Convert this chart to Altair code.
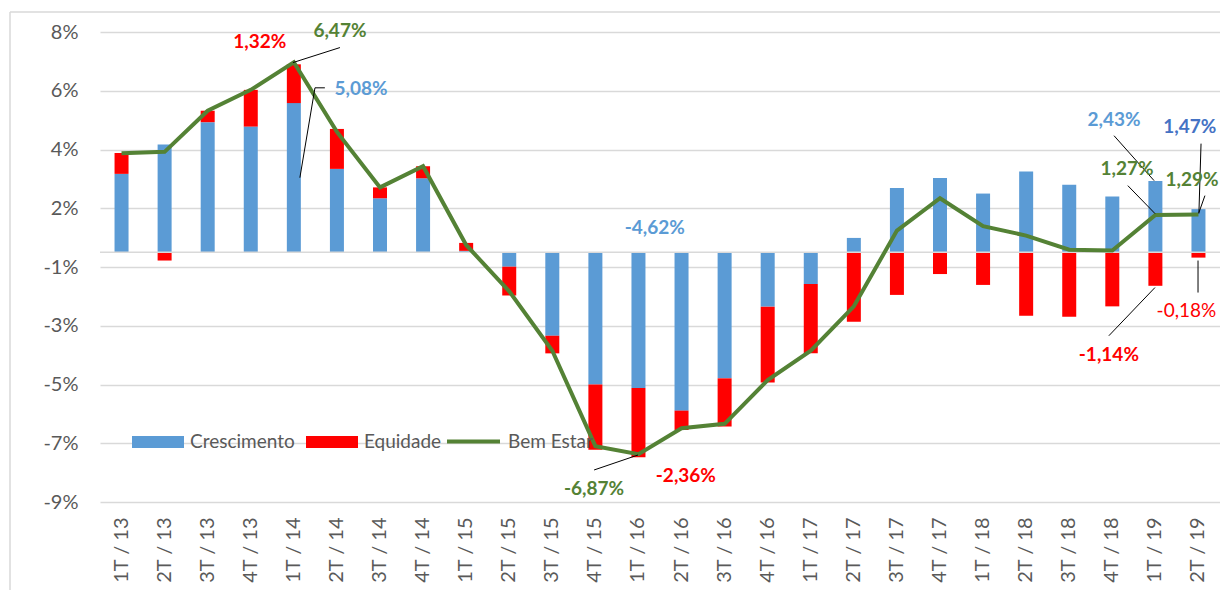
import altair as alt
import pandas as pd

quarters = ["1T / 13", "2T / 13", "3T / 13", "4T / 13", "1T / 14", "2T / 14", "3T / 14", "4T / 14",
            "1T / 15", "2T / 15", "3T / 15", "4T / 15", "1T / 16", "2T / 16", "3T / 16", "4T / 16",
            "1T / 17", "2T / 17", "3T / 17", "4T / 17", "1T / 18", "2T / 18", "3T / 18", "4T / 18",
            "1T / 19", "2T / 19"]
crescimento = [2.67, 3.67, 4.43, 4.28, 5.08, 2.84, 1.84, 2.52, 0.05, -0.49, -2.84, -4.50, -4.62,
               -5.39, -4.29, -1.85, -1.08, 0.49, 2.19, 2.53, 2.00, 2.75, 2.30, 1.90, 2.43, 1.47]
equidade = [0.71, -0.28, 0.39, 1.25, 1.32, 1.36, 0.37, 0.41, 0.27, -0.98, -0.60, -2.22, -2.36,
            -0.66, -1.64, -2.58, -2.36, -2.36, -1.45, -0.74, -1.11, -2.16, -2.19, -1.84, -1.14, -0.18]
bem_estar = [3.37, 3.42, 4.82, 5.53, 6.47, 4.10, 2.21, 2.93, 0.25, -1.33, -3.35, -6.60, -6.87,
             -5.99, -5.84, -4.35, -3.35, -1.84, 0.74, 1.84, 0.89, 0.57, 0.09, 0.06, 1.27, 1.29]
series_names = ["Crescimento", "Equidade"]
line_name = "Bem Estar"
y_ticks = [-8.5, -6.5, -4.5, -2.5, -0.5, 1.5, 3.5, 5.5, 7.5]

# data labels (text, anchor in category-index units and value units)
ann_text = ["1,32%", "6,47%", "5,08%", "-4,62%", "-6,87%", "-2,36%", "2,43%", "1,47%",
            "1,27%", "1,29%", "-1,14%", "-0,18%"]
ann_x = [3.21, 5.07, 5.56, 12.38, 10.97, 13.10, 23.04, 24.80, 23.34, 24.85, 22.92, 24.72]
ann_y = [7.17, 7.55, 5.57, 0.84, -8.05, -7.60, 4.52, 4.28, 2.82, 2.47, -3.48, -1.99]
ann_color = ["#FF0000", "#548235", "#5B9BD5", "#5B9BD5", "#548235", "#FF0000", "#5B9BD5",
             "#4472C4", "#548235", "#548235", "#FF0000", "#FF0000"]
ann_bold = [True, True, True, True, True, True, True, True, True, True, True, False]

# leader lines: group id, x (category-index units), y (value units)
lead_group = [0, 0, 1, 1, 1, 2, 2, 3, 3, 4, 4, 5, 5, 6, 6, 7, 7, 8, 8]
lead_x = [5.07, 3.98, 4.72, 4.49, 4.14, 10.97, 11.99, 23.04, 23.97, 25.06, 25.01,
          23.36, 23.99, 25.15, 25.01, 22.92, 23.99, 24.99, 24.99]
lead_y = [6.97, 6.46, 5.60, 5.60, 2.54, -7.41, -6.90, 3.97, 2.44, 3.70, 1.32,
          2.27, 1.32, 1.93, 1.35, -2.84, -1.20, -0.28, -1.37]

FONT = "Lato"
GRAY = "#595959"
GRID = "#D9D9D9"

bars_rows = []
for i, q in enumerate(quarters):
    bars_rows.append({"q": q, "serie": series_names[0], "v": crescimento[i], "ord": 0})
    bars_rows.append({"q": q, "serie": series_names[1], "v": equidade[i], "ord": 1})
bars_df = pd.DataFrame(bars_rows)
line_df = pd.DataFrame({"q": quarters, "v": bem_estar, "serie": [line_name] * len(quarters)})

ann_df = pd.DataFrame({"t": ann_text, "x": ann_x, "y": ann_y, "c": ann_color, "b": ann_bold})
lead_df = pd.DataFrame({"g": lead_group, "x": lead_x, "y": lead_y, "o": list(range(len(lead_x)))})

yscale = alt.Scale(domain=[-8.5, 7.5], nice=False, zero=False)
yaxis = alt.Axis(values=y_ticks, title=None, grid=True, gridColor=GRID, gridWidth=1.5,
                 domain=False, ticks=False, labelPadding=22, labelFont=FONT,
                 labelFontSize=20, labelColor=GRAY,
                 labelExpr="(datum.value < 0 ? '-' : '') + round(abs(datum.value)) + '%'")
xscale = alt.Scale(paddingInner=0.675, paddingOuter=0.3375)
xaxis = alt.Axis(title=None, labelAngle=-90, ticks=False, domain=False, labelPadding=15,
                 labelFont=FONT, labelFontSize=20, labelColor=GRAY, grid=False)

bars = alt.Chart(bars_df).mark_bar().encode(
    x=alt.X("q:N", sort=quarters, scale=xscale, axis=xaxis),
    y=alt.Y("v:Q", stack="zero", scale=yscale, axis=yaxis),
    color=alt.Color("serie:N", scale=alt.Scale(domain=series_names, range=["#5B9BD5", "#FF0000"]),
                    legend=alt.Legend(title=None, orient="none", direction="horizontal",
                                      legendX=32, legendY=384, padding=0,
                                      symbolType="M-1,-0.23H1V0.23H-1Z", symbolSize=2704,
                                      symbolStrokeWidth=0, labelFont=FONT, labelFontSize=19,
                                      labelColor=GRAY, labelOffset=6, columnPadding=11)),
    order=alt.Order("ord:Q"),
)

zero_rule = alt.Chart(pd.DataFrame({"z": [0]})).mark_rule(color=GRID, strokeWidth=1.5).encode(
    y=alt.Y("z:Q", scale=yscale, axis=yaxis))

line = alt.Chart(line_df).mark_line(strokeWidth=4).encode(
    x=alt.X("q:N", sort=quarters, scale=xscale, axis=xaxis),
    y=alt.Y("v:Q", scale=yscale, axis=yaxis),
    stroke=alt.Stroke("serie:N", scale=alt.Scale(domain=[line_name], range=["#548235"]),
                      legend=alt.Legend(title=None, orient="none", legendX=345, legendY=381,
                                        padding=0, symbolType="stroke", symbolSize=2809,
                                        symbolStrokeWidth=4, labelFont=FONT, labelFontSize=19,
                                        labelColor=GRAY, labelOffset=6)),
)

base = alt.layer(bars, zero_rule, line)

ax = alt.X("x:Q", scale=alt.Scale(domain=[-0.5, 25.5], nice=False, zero=False), axis=None)
ay = alt.Y("y:Q", scale=yscale, axis=yaxis)

leaders = alt.Chart(lead_df).mark_line(color="black", strokeWidth=1).encode(
    x=ax, y=ay, detail="g:N", order="o:Q")
txt_bold = alt.Chart(ann_df).transform_filter("datum.b").mark_text(
    font=FONT, fontSize=19, fontWeight="bold", align="center", baseline="middle").encode(
    x=ax, y=ay, text="t:N", color=alt.Color("c:N", scale=None))
txt_norm = alt.Chart(ann_df).transform_filter("!datum.b").mark_text(
    font=FONT, fontSize=19, fontWeight="normal", align="center", baseline="middle").encode(
    x=ax, y=ay, text="t:N", color=alt.Color("c:N", scale=None))

annot = alt.layer(leaders, txt_bold, txt_norm)

frame_data = pd.DataFrame({"k": [0]})
frame_left = alt.Chart(frame_data).mark_rule(color=GRID, strokeWidth=1.5).encode(
    x=alt.value(-90), y=alt.value(-20), y2=alt.value(600))
frame_top = alt.Chart(frame_data).mark_rule(color=GRID, strokeWidth=1.5).encode(
    x=alt.value(-90), x2=alt.value(1140), y=alt.value(-20))

chart = alt.layer(base, annot, frame_left, frame_top).resolve_scale(x="independent").properties(
    width=1120, height=470,
    padding={"left": 92, "top": 24, "right": 0, "bottom": 88},
    autosize=alt.AutoSizeParams(type="none"),
    view=alt.ViewBackground(strokeWidth=0, stroke="transparent"),
).configure(font=FONT).configure_view(strokeWidth=0, stroke="transparent").configure_axis(
    domain=False, ticks=False
).configure_axisX(grid=False)

chart.save("out.html", embed_options={"renderer": "svg", "actions": False})
